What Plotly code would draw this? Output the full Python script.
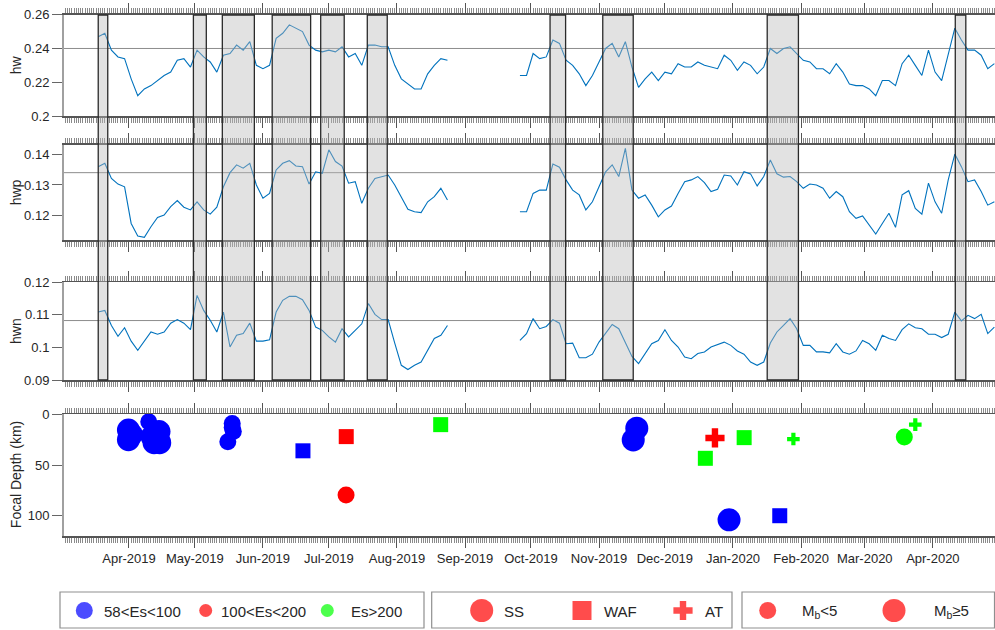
import plotly.graph_objects as go
import pandas as pd

# ---------------- data ----------------
seg_a_start = "2019-03-18"   # first segment, sampled every 3 days
seg_b_start = "2019-09-26"   # second segment, sampled every 3 days

hw_a = [0.247, 0.249, 0.239, 0.235, 0.234, 0.222, 0.212, 0.216, 0.218, 0.221,
        0.224, 0.226, 0.233, 0.234, 0.229, 0.239, 0.235, 0.232, 0.226, 0.236,
        0.237, 0.242, 0.239, 0.244, 0.230, 0.228, 0.230, 0.246, 0.249, 0.254,
        0.252, 0.250, 0.242, 0.239, 0.238, 0.239, 0.238, 0.241, 0.235, 0.237,
        0.230, 0.242, 0.242, 0.241, 0.241, 0.230, 0.222, 0.219, 0.216, 0.216,
        0.225, 0.230, 0.234, 0.233]
hw_b = [0.224, 0.224, 0.237, 0.234, 0.235, 0.245, 0.243, 0.233, 0.230, 0.225,
        0.218, 0.224, 0.232, 0.240, 0.243, 0.235, 0.244, 0.229, 0.217, 0.222,
        0.226, 0.221, 0.226, 0.225, 0.231, 0.229, 0.229, 0.232, 0.230, 0.229,
        0.228, 0.236, 0.233, 0.227, 0.232, 0.230, 0.225, 0.229, 0.240, 0.237,
        0.240, 0.241, 0.237, 0.233, 0.232, 0.228, 0.228, 0.225, 0.231, 0.226,
        0.219, 0.218, 0.218, 0.216, 0.212, 0.221, 0.221, 0.218, 0.231, 0.236,
        0.230, 0.224, 0.239, 0.226, 0.221, 0.237, 0.252, 0.245, 0.239, 0.239,
        0.236, 0.228, 0.231]

hwp_a = [0.1361, 0.1372, 0.1322, 0.1303, 0.1294, 0.1172, 0.1130, 0.1126, 0.1161, 0.1192,
         0.1200, 0.1228, 0.1248, 0.1226, 0.1217, 0.1244, 0.1217, 0.1203, 0.1226, 0.1294,
         0.1341, 0.1367, 0.1356, 0.1372, 0.1300, 0.1256, 0.1272, 0.1350, 0.1372, 0.1381,
         0.1363, 0.1361, 0.1303, 0.1344, 0.1339, 0.1417, 0.1378, 0.1363, 0.1306, 0.1311,
         0.1239, 0.1289, 0.1322, 0.1328, 0.1333, 0.1300, 0.1261, 0.1219, 0.1211, 0.1208,
         0.1244, 0.1261, 0.1289, 0.1250]
hwp_b = [0.1211, 0.1211, 0.1272, 0.1283, 0.1283, 0.1370, 0.1359, 0.1317, 0.1283, 0.1267,
         0.1217, 0.1244, 0.1294, 0.1344, 0.1367, 0.1328, 0.1422, 0.1283, 0.1256, 0.1267,
         0.1233, 0.1194, 0.1217, 0.1230, 0.1272, 0.1311, 0.1317, 0.1328, 0.1308, 0.1278,
         0.1286, 0.1333, 0.1330, 0.1300, 0.1344, 0.1337, 0.1297, 0.1328, 0.1383, 0.1337,
         0.1326, 0.1328, 0.1311, 0.1289, 0.1303, 0.1300, 0.1289, 0.1256, 0.1278, 0.1261,
         0.1211, 0.1189, 0.1197, 0.1167, 0.1137, 0.1172, 0.1206, 0.1159, 0.1267, 0.1281,
         0.1222, 0.1203, 0.1306, 0.1244, 0.1206, 0.1317, 0.1403, 0.1361, 0.1311, 0.1317,
         0.1278, 0.1233, 0.1244]

hwn_a = [0.1108, 0.1113, 0.1067, 0.1034, 0.1060, 0.1019, 0.0991, 0.1019, 0.1047, 0.1040,
         0.1047, 0.1074, 0.1085, 0.1074, 0.1054, 0.1159, 0.1113, 0.1083, 0.1047, 0.1108,
         0.1001, 0.1037, 0.1042, 0.1074, 0.1019, 0.1019, 0.1023, 0.1108, 0.1144, 0.1156,
         0.1156, 0.1146, 0.1113, 0.1062, 0.1052, 0.1032, 0.1016, 0.1057, 0.1032, 0.1052,
         0.1072, 0.1134, 0.1101, 0.1085, 0.1085, 0.1013, 0.0945, 0.0932, 0.0945, 0.0955,
         0.0991, 0.1027, 0.1037, 0.1067]
hwn_b = [0.1021, 0.1042, 0.1088, 0.1057, 0.1064, 0.1085, 0.1074, 0.1011, 0.1013, 0.0968,
         0.0968, 0.0979, 0.1016, 0.1044, 0.1070, 0.1057, 0.1016, 0.0972, 0.0950, 0.0981,
         0.1011, 0.1021, 0.1054, 0.1021, 0.1001, 0.0970, 0.0965, 0.0981, 0.0986, 0.1001,
         0.1009, 0.1016, 0.1006, 0.0989, 0.0979, 0.0955, 0.0945, 0.0955, 0.1013, 0.1047,
         0.1067, 0.1088, 0.1057, 0.1006, 0.1006, 0.0986, 0.0986, 0.0983, 0.1011, 0.0986,
         0.0979, 0.0989, 0.1021, 0.1011, 0.0991, 0.1037, 0.1027, 0.1021, 0.1054, 0.1072,
         0.1060, 0.1057, 0.1040, 0.1040, 0.1030, 0.1040, 0.1108, 0.1081, 0.1098, 0.1088,
         0.1101, 0.1042, 0.1062]

ref_levels = [0.24, 0.1341, 0.1082]   # horizontal reference lines (hw, hwp, hwn)

# highlighted periods
span_start = ["2019-03-18", "2019-04-30 08:00", "2019-05-13 12:00", "2019-06-05 05:00",
              "2019-06-27 07:00", "2019-07-18 12:00", "2019-10-09 17:00", "2019-11-02 17:00",
              "2020-01-16 14:00", "2020-04-11 05:00"]
span_end = ["2019-03-22 08:00", "2019-05-06 05:00", "2019-05-28 02:00", "2019-06-22 17:00",
            "2019-07-08 00:00", "2019-07-27 14:00", "2019-10-16 19:00", "2019-11-16 14:00",
            "2020-01-30 19:00", "2020-04-16 00:00"]

# earthquakes
eq_date = ["2019-03-31 18:00", "2019-03-31 18:00", "2019-04-02 03:00", "2019-04-10 00:00",
           "2019-04-11 12:00", "2019-04-12 10:00", "2019-04-14 16:00", "2019-04-15 00:00",
           "2019-05-16 00:00", "2019-05-18 00:00", "2019-05-18 12:00", "2019-05-18 00:00",
           "2019-06-19 05:00", "2019-07-08 22:00", "2019-07-08 20:00", "2019-08-20 22:00",
           "2019-11-18 05:00", "2019-11-16 14:00", "2019-12-19 10:00", "2019-12-23 19:00",
           "2019-12-30 05:00", "2020-01-06 02:00", "2020-01-22 07:00", "2020-01-28 12:00",
           "2020-03-19 00:00", "2020-03-24 00:00"]
eq_depth = [15.5, 25, 20, 7.4, 22, 28, 17, 28,
            27, 9, 17, 13,
            36, 22, 79.6, 10.2,
            13.7, 25.3, 43.4, 23.3,
            104, 23, 100, 24.4,
            22.4, 10.2]
eq_energy = ["58<Es<100"] * 12 + ["58<Es<100", "100<Es<200", "100<Es<200", "Es>200",
             "58<Es<100", "58<Es<100", "Es>200", "100<Es<200",
             "58<Es<100", "Es>200", "58<Es<100", "Es>200", "Es>200", "Es>200"]
eq_mech = ["SS"] * 12 + ["WAF", "WAF", "SS", "WAF", "SS", "SS", "WAF", "AT",
           "SS", "WAF", "WAF", "AT", "SS", "AT"]
eq_mag = [">=5", ">=5", ">=5", "<5", ">=5", ">=5", ">=5", ">=5",
          "<5", "<5", "<5", "<5",
          "<5", "<5", "<5", "<5",
          ">=5", ">=5", "<5", ">=5",
          ">=5", "<5", "<5", "<5", "<5", "<5"]

# tick labels
hw_ticks = [0.2, 0.22, 0.24, 0.26]
hw_labels = ["0.2", "0.22", "0.24", "0.26"]
hwp_ticks = [0.12, 0.13, 0.14]
hwp_labels = ["0.12", "0.13", "0.14"]
hwn_ticks = [0.09, 0.1, 0.11, 0.12]
hwn_labels = ["0.09", "0.1", "0.11", "0.12"]
depth_ticks = [0, 50, 100]
depth_labels = ["0", "50", "100"]
panel_titles = ["hw", "hwp", "hwn", "Focal Depth (km)"]

legend1_labels = ["58&lt;Es&lt;100", "100&lt;Es&lt;200", "Es&gt;200"]
legend2_labels = ["SS", "WAF", "AT"]
legend3_labels = ["M<sub>b</sub>&lt;5", "M<sub>b</sub>≥5"]

# ---------------- styling / layout ----------------
W, H = 995, 630
FONT = "Liberation Sans, Arial, sans-serif"
TXT = "#262626"
BLUE_LINE = "#0072BD"
energy_color = {"58<Es<100": "#0000FF", "100<Es<200": "#FF0000", "Es>200": "#00FF00"}
mech_symbol = {"SS": "circle", "WAF": "square", "AT": "cross"}
size_map = {("SS", "<5"): 17, ("SS", ">=5"): 23, ("WAF", "<5"): 15, ("WAF", ">=5"): 19,
            ("AT", "<5"): 10.5, ("AT", ">=5"): 16}


def fx(p):
    return p / W


def fy(p):
    return 1 - p / H


XRANGE = ["2019-03-02 10:00", "2020-04-29 07:00"]
panel_px = [(14.7, 116), (144.7, 240), (282, 380), (414.3, 536)]
yranges = [[0.2, 0.26], [0.1117, 0.1434], [0.09, 0.12], [120, 0]]
yticks = [(hw_ticks, hw_labels), (hwp_ticks, hwp_labels), (hwn_ticks, hwn_labels),
          (depth_ticks, depth_labels)]

fig = go.Figure()

dates_a = list(pd.date_range(seg_a_start, periods=len(hw_a), freq="3D"))
dates_b = list(pd.date_range(seg_b_start, periods=len(hw_b), freq="3D"))
series = [(hw_a, hw_b), (hwp_a, hwp_b), (hwn_a, hwn_b)]
for i, (a, b) in enumerate(series, start=1):
    fig.add_trace(go.Scatter(
        x=dates_a + [None] + dates_b, y=a + [None] + b, mode="lines",
        line=dict(color=BLUE_LINE, width=1.1), connectgaps=False,
        xaxis="x" if i == 1 else f"x{i}", yaxis="y" if i == 1 else f"y{i}",
        showlegend=False, hoverinfo="skip"))

fig.add_trace(go.Scatter(
    x=eq_date, y=eq_depth, mode="markers", xaxis="x4", yaxis="y4",
    marker=dict(color=[energy_color[e] for e in eq_energy],
                symbol=[mech_symbol[m] for m in eq_mech],
                size=[size_map[(m, g)] for m, g in zip(eq_mech, eq_mag)],
                line=dict(width=0), opacity=1),
    cliponaxis=False, showlegend=False, hoverinfo="skip"))

tickfont = dict(family=FONT, size=13, color=TXT)
layout = dict(
    template="none",
    width=W, height=H, margin=dict(l=0, r=0, t=0, b=0, pad=0, autoexpand=False),
    paper_bgcolor="white", plot_bgcolor="rgba(0,0,0,0)",
    font=dict(family=FONT, size=13, color=TXT), showlegend=False,
)
for i in range(1, 5):
    xn = "xaxis" if i == 1 else f"xaxis{i}"
    yn = "yaxis" if i == 1 else f"yaxis{i}"
    top, bot = panel_px[i - 1]
    layout[xn] = dict(
        type="date", range=XRANGE, domain=[fx(64), 1], automargin=False,
        anchor="y" if i == 1 else f"y{i}",
        showline=True, linecolor="#555555", linewidth=1.5, mirror="allticks",
        ticks="outside", ticklen=10, tickwidth=1, tickcolor="#555555",
        dtick="M1", tick0="2019-01-01", tickformat="%b-%Y",
        showticklabels=(i == 4), tickfont=tickfont,
        showgrid=False, zeroline=False,
        minor=dict(dtick=86400000, ticks="outside", ticklen=5, tickwidth=1,
                   tickcolor="#8a8a8a", showgrid=False),
    )
    tv, tt = yticks[i - 1]
    layout[yn] = dict(
        domain=[fy(bot), fy(top)], range=yranges[i - 1], automargin=False,
        anchor="x" if i == 1 else f"x{i}",
        showline=True, linecolor="#a0a0a0", linewidth=2,
        ticks="outside", ticklen=10, tickwidth=1, tickcolor="#666666",
        tickmode="array", tickvals=tv, ticktext=tt, tickfont=tickfont,
        showgrid=False, zeroline=False,
    )

# legend helper axis: coordinates equal pixel positions
layout["xaxis5"] = dict(domain=[0, 1], range=[0, W], visible=False, anchor="y5", automargin=False)
layout["yaxis5"] = dict(domain=[fy(628), fy(592)], range=[628, 592], visible=False, anchor="x5",
                        automargin=False)

fig.update_layout(**layout)

shapes = []
for i, lvl in enumerate(ref_levels, start=1):
    xr = "x" if i == 1 else f"x{i}"
    yr = "y" if i == 1 else f"y{i}"
    shapes.append(dict(type="line", xref=f"{xr} domain", yref=yr, x0=0, x1=1, y0=lvl, y1=lvl,
                       line=dict(color="#8c8c8c", width=1), layer="below"))
for s, e in zip(span_start, span_end):
    shapes.append(dict(type="rect", xref="x", yref="paper", x0=s, x1=e, y0=fy(380), y1=fy(15),
                       fillcolor="rgba(185,185,185,0.42)",
                       line=dict(color="#2a2a2a", width=1.3), layer="above"))
for x0, x1 in [(60, 424), (431.7, 732), (742, 994.5)]:
    shapes.append(dict(type="rect", xref="paper", yref="paper", x0=fx(x0), x1=fx(x1),
                       y0=fy(628), y1=fy(592), line=dict(color="#8f8f8f", width=1.2),
                       fillcolor="rgba(0,0,0,0)", layer="above"))
fig.update_layout(shapes=shapes)

# legend glyphs
LY = 610.5
leg_x = [84.3, 205.7, 327.3, 481.7, 582, 683, 767.7, 894]
leg_color = ["#0000FF", "#FF0000", "#00FF00", "#FF0000", "#FF0000", "#FF0000", "#FF0000", "#FF0000"]
leg_symbol = ["circle", "circle", "circle", "circle", "square", "cross", "circle", "circle"]
leg_size = [17, 13, 13, 23, 19, 16, 17, 23]
fig.add_trace(go.Scatter(x=leg_x, y=[LY] * len(leg_x), mode="markers", xaxis="x5", yaxis="y5",
                         marker=dict(color=leg_color, symbol=leg_symbol, size=leg_size,
                                     line=dict(width=0)),
                         cliponaxis=False, showlegend=False, hoverinfo="skip"))

annotations = []
text_x = [101.7, 219, 349.3, 501.7, 602.3, 703.3, 800, 932.3]
for tx, lab in zip(text_x, legend1_labels + legend2_labels + legend3_labels):
    annotations.append(dict(x=fx(tx), y=fy(611), xref="paper", yref="paper", text=lab,
                            showarrow=False, xanchor="left", yanchor="middle",
                            font=dict(family=FONT, size=15, color=TXT)))
for (top, bot), title in zip(panel_px, panel_titles):
    annotations.append(dict(x=fx(16), y=fy((top + bot) / 2), xref="paper", yref="paper",
                            text=title, textangle=-90, showarrow=False,
                            xanchor="center", yanchor="middle",
                            font=dict(family=FONT, size=14, color=TXT)))
fig.update_layout(annotations=annotations)

fig.write_html("out.html",
               config={"displayModeBar": False, "staticPlot": True},
               post_script="document.body.style.margin='0px';document.body.style.padding='0px';"
                           "document.body.style.overflow='hidden';")
